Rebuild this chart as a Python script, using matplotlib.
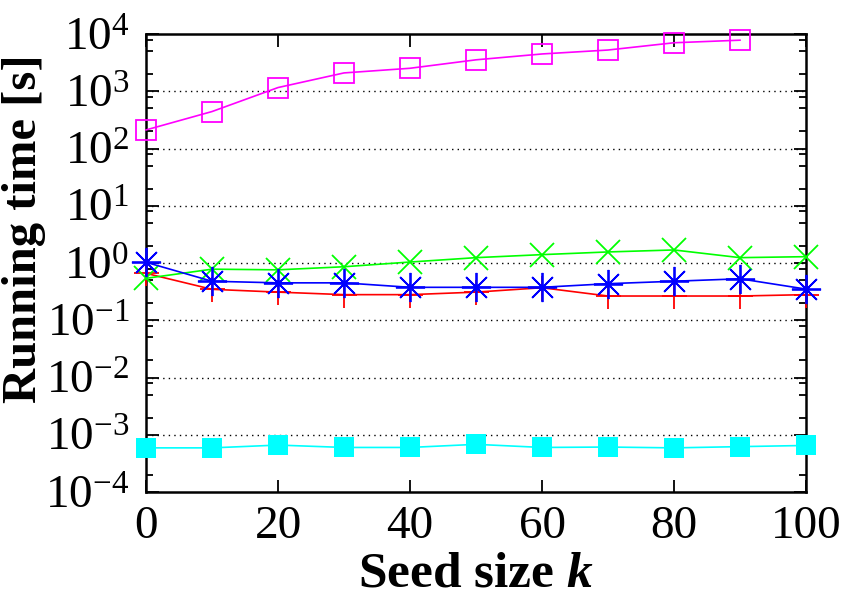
"""Running time vs seed size (log scale), gnuplot-style figure."""

import matplotlib

matplotlib.use("Agg")
import numpy as np
from matplotlib import pyplot as plt
from matplotlib import ticker

# Seed sizes
k_values = [0, 10, 20, 30, 40, 50, 60, 70, 80, 90, 100]

# Running times [s]
magenta_times = [211, 442, 1160, 2090, 2520, 3540, 4480, 5250, 7030, 7800]
green_times = [0.54, 0.78, 0.76, 0.86, 1.04, 1.24, 1.40, 1.56, 1.69, 1.24, 1.29]
blue_times = [1.03, 0.48, 0.45, 0.45, 0.376, 0.376, 0.376, 0.435, 0.48, 0.53, 0.35]
red_times = [0.66, 0.347, 0.31, 0.28, 0.28, 0.31, 0.37, 0.265, 0.265, 0.265, 0.28]
cyan_times = [5.9e-4, 5.9e-4, 6.6e-4, 6.0e-4, 6.0e-4, 6.8e-4,
              6.0e-4, 6.1e-4, 5.9e-4, 6.2e-4, 6.5e-4]

x_ticks = [0, 20, 40, 60, 80, 100]


def decade_label(value, _pos):
    return f"$\\mathdefault{{10^{{{int(round(np.log10(value)))}}}}}$"


def main() -> None:
    plt.rcParams["font.family"] = ["Liberation Serif", "DejaVu Serif"]
    plt.rcParams["mathtext.fontset"] = "custom"
    plt.rcParams["mathtext.rm"] = "Liberation Serif"
    plt.rcParams["mathtext.it"] = "Liberation Serif:italic"
    plt.rcParams["mathtext.bf"] = "Liberation Serif:bold"
    plt.rcParams["mathtext.bfit"] = "Liberation Serif:italic:bold"
    plt.rcParams["axes.unicode_minus"] = False

    fig = plt.figure(figsize=(8.47, 6.01), dpi=100)
    ax = fig.add_axes([146 / 847, 1 - 492 / 601, 660 / 847, 458 / 601])

    lw = 1.2
    ax.plot(k_values, red_times, color="#ff0000", marker="+", ms=18,
            mew=1.3, lw=lw, clip_on=False, zorder=3)
    ax.plot(k_values, green_times, color="#00ff00", marker="x", ms=17,
            mew=1.3, lw=lw, clip_on=False, zorder=3)
    ax.plot(k_values, blue_times, color="#0000ff", marker=(8, 2, 0), ms=21,
            mew=1.3, lw=lw, clip_on=False, zorder=4)
    ax.plot(k_values[:len(magenta_times)], magenta_times, color="#ff00ff",
            marker="s", ms=15, mfc="none", mew=1.3, lw=lw, clip_on=False,
            zorder=3)
    ax.plot(k_values, cyan_times, color="#00ffff", marker="s", ms=15,
            mew=0, lw=lw, clip_on=False, zorder=3)

    ax.set_yscale("log")
    ax.set_ylim(1e-4, 1e4)
    ax.set_xlim(0, 100)
    ax.set_xticks(x_ticks)

    ax.yaxis.set_major_locator(ticker.LogLocator(base=10, numticks=20))
    ax.yaxis.set_minor_locator(ticker.LogLocator(base=10, subs=[2, 5, 8], numticks=20))
    ax.yaxis.set_major_formatter(ticker.FuncFormatter(decade_label))
    ax.yaxis.set_minor_formatter(ticker.NullFormatter())

    ax.tick_params(which="both", direction="in", top=True, right=True,
                   width=1.3, labelsize=34)
    ax.tick_params(which="major", length=9)
    ax.tick_params(which="minor", length=5)
    ax.tick_params(axis="x", pad=10)
    ax.tick_params(axis="y", pad=12)

    for spine in ax.spines.values():
        spine.set_linewidth(1.8)

    # dotted grid at the decades only
    for exp in range(-3, 4):
        ax.axhline(10.0 ** exp, color="black", lw=1.0,
                   linestyle=(0, (1, 3)), zorder=1)

    ax.set_xlabel(r"Seed size $\mathbfit{k}$", fontsize=37, fontweight="bold",
                  labelpad=2)
    ax.set_ylabel("Running time [s]", fontsize=35, fontweight="bold")
    ax.yaxis.set_label_coords(-0.152, 0.576)

    fig.savefig("out.png", dpi=100)
    plt.close(fig)


if __name__ == "__main__":
    main()
